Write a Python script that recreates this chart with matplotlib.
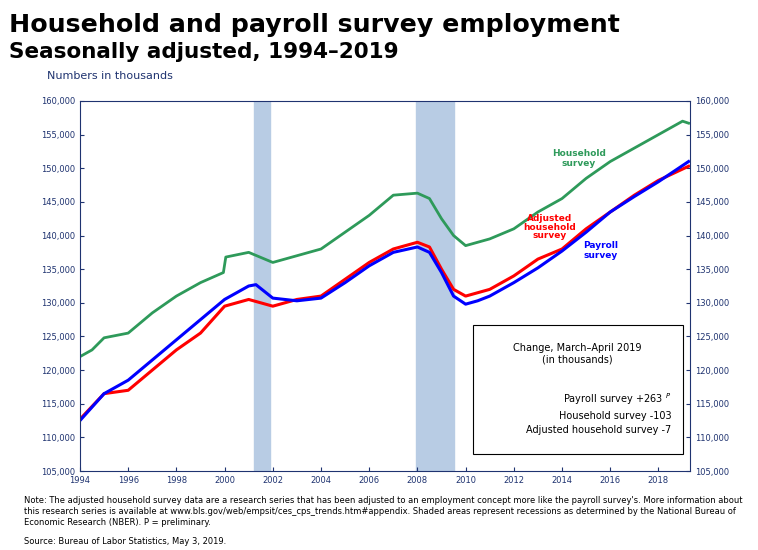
import matplotlib
matplotlib.use('Agg')
import matplotlib.pyplot as plt
import numpy as np

# approximate readings, thousands of jobs
payroll_t = [1994, 1995, 1996, 1997, 1998, 1999, 2000, 2001.0, 2001.3, 2002, 2003, 2004, 2005,
             2006, 2007, 2008.0, 2008.5, 2009.0, 2009.5, 2010.0, 2010.5, 2011, 2012, 2013,
             2014, 2015, 2016, 2017, 2018, 2019.25]
payroll = [112.5, 116.5, 118.5, 121.5, 124.5, 127.5, 130.5, 132.5, 132.7, 130.7, 130.3, 130.7, 133,
           135.5, 137.5, 138.3, 137.5, 134.5, 131, 129.8, 130.3, 131, 133, 135.2,
           137.7, 140.5, 143.5, 145.8, 148, 151]

household_t = [1994, 1994.5, 1995, 1996, 1997, 1998, 1999, 1999.95, 2000.05, 2001, 2002, 2003, 2004,
               2005, 2006, 2007, 2008, 2008.5, 2009, 2009.5, 2010, 2011, 2012, 2013, 2014,
               2015, 2016, 2017, 2018, 2019, 2019.25]
household = [122, 123, 124.8, 125.5, 128.5, 131, 133, 134.5, 136.8, 137.5, 136, 137, 138,
             140.5, 143, 146, 146.3, 145.5, 142.5, 140, 138.5, 139.5, 141, 143.5, 145.5,
             148.5, 151, 153, 155, 157, 156.7]

adjusted_t = [1994, 1995, 1996, 1997, 1998, 1999, 2000, 2001, 2002, 2003, 2004, 2005, 2006, 2007,
              2008, 2008.5, 2009, 2009.5, 2010, 2011, 2012, 2013, 2014, 2015, 2016, 2017,
              2018, 2019.25]
adjusted = [112.7, 116.5, 117, 120, 123, 125.5, 129.5, 130.5, 129.5, 130.5, 131, 133.5, 136, 138,
            139, 138.3, 135, 132, 131, 132, 134, 136.5, 138, 141, 143.5, 146,
            148.2, 150.3]

recessions = [(2001.2, 2001.9), (2007.95, 2009.5)]

navy = '#1f3370'
fig = plt.figure(figsize=(7.58, 5.5), dpi=100)
ax = fig.add_axes([0.1055, 0.1436, 0.8045, 0.6728])

for a, b in recessions:
    ax.axvspan(a, b, color='#b8cce4', zorder=0)

ax.plot(household_t, household, color='#2e9a5a', lw=2)
ax.plot(adjusted_t, adjusted, color='#ff0000', lw=2.2)
ax.plot(payroll_t, payroll, color='#0000ff', lw=2.2)

ax.set_xlim(1994, 2019.3)
ax.set_ylim(105, 160)
ax.set_xticks(range(1994, 2019, 2))
yt = np.arange(105, 161, 5)
ax.set_yticks(yt)
ax.set_yticklabels([f'{int(v)},000' for v in yt])
ax.tick_params(labelsize=6, colors=navy, direction='in', length=3, right=True, labelright=True)
for s in ax.spines.values():
    s.set_color(navy)

ax.text(2014.7, 150.3, 'Household\nsurvey', color='#2e9a5a', fontsize=6.5, weight='bold', ha='center')
ax.text(2013.5, 139.6, 'Adjusted\nhousehold\nsurvey', color='#ff0000', fontsize=6.5, weight='bold', ha='center', linespacing=0.95)
ax.text(2015.6, 136.6, 'Payroll\nsurvey', color='#0000ff', fontsize=6.5, weight='bold', ha='center')

box = plt.Rectangle((0.644, 0.045), 0.345, 0.35, transform=ax.transAxes, fill=True,
                    facecolor='white', edgecolor='black', lw=0.8, zorder=5)
ax.add_patch(box)
ax.text(0.816, 0.345, 'Change, March\u2013April 2019\n(in thousands)', transform=ax.transAxes,
        ha='center', va='top', fontsize=7, zorder=6)
ax.text(0.97, 0.215, 'Payroll survey +263 $^{P}$\nHousehold survey -103\nAdjusted household survey -7',
        transform=ax.transAxes, ha='right', va='top', fontsize=7, zorder=6, linespacing=1.5)

fig.text(0.012, 0.955, 'Household and payroll survey employment', fontsize=18.2, weight='bold', va='center')
fig.text(0.012, 0.905, 'Seasonally adjusted, 1994\u20132019', fontsize=15.5, weight='bold', va='center')
fig.text(0.062, 0.862, 'Numbers in thousands', fontsize=8, color=navy, va='center')

fig.text(0.032, 0.098, "Note: The adjusted household survey data are a research series that has been adjusted to an employment concept more like the payroll survey's. More information about\n"
         "this research series is available at www.bls.gov/web/empsit/ces_cps_trends.htm#appendix. Shaded areas represent recessions as determined by the National Bureau of\n"
         "Economic Research (NBER). P = preliminary.", fontsize=6, va='top', linespacing=1.3)
fig.text(0.032, 0.008, 'Source: Bureau of Labor Statistics, May 3, 2019.', fontsize=6, va='bottom')

fig.savefig('out.png', dpi=100)
